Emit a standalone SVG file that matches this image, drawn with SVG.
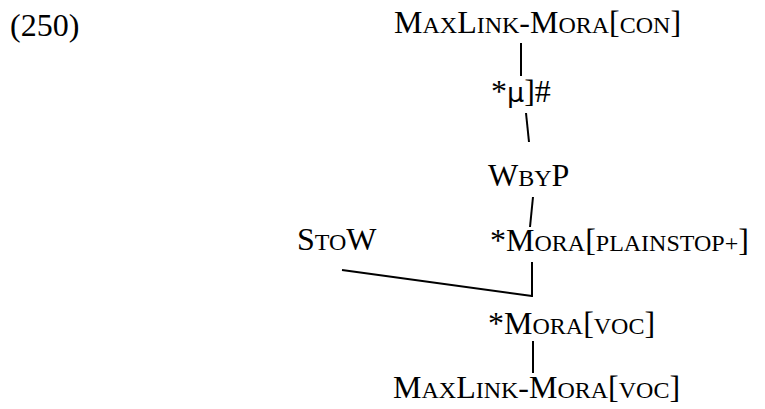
<svg xmlns="http://www.w3.org/2000/svg" width="765" height="409" viewBox="0 0 765 409">
<style>
text{font-family:"Liberation Serif","Times New Roman",serif;font-size:32px;fill:#000}
.sc{font-size:24px}
.mu{font-family:"DejaVu Sans","Liberation Sans",sans-serif;font-size:27px}
.c line{stroke:#000;stroke-width:2;fill:none}
</style>
<rect width="765" height="409" fill="#fff"/>
<g id="label"><text x="10" y="36">(250)</text></g>
<g id="n1"><text x="394" y="33">M<tspan class="sc">AX</tspan>L<tspan class="sc">INK</tspan>-M<tspan class="sc">ORA</tspan>[<tspan class="sc">CON</tspan>]</text></g>
<g id="n2"><text x="491" y="102">*<tspan class="mu">μ</tspan>]#</text></g>
<g id="n3"><text x="488" y="186">W<tspan class="sc">BY</tspan>P</text></g>
<g id="n4"><text x="297" y="250">S<tspan class="sc">TO</tspan>W</text></g>
<g id="n5"><text x="490" y="251">*M<tspan class="sc">ORA</tspan>[<tspan class="sc">PLAINSTOP+</tspan>]</text></g>
<g id="n6"><text x="488" y="334">*M<tspan class="sc">ORA</tspan>[<tspan class="sc">VOC</tspan>]</text></g>
<g id="n7"><text x="393" y="398">M<tspan class="sc">AX</tspan>L<tspan class="sc">INK</tspan>-M<tspan class="sc">ORA</tspan>[<tspan class="sc">VOC</tspan>]</text></g>
<g id="connectors" class="c">
<line x1="521" y1="43" x2="521" y2="76"/>
<line x1="526" y1="113" x2="529" y2="142"/>
<line x1="533" y1="197" x2="530" y2="227"/>
<line x1="532" y1="262" x2="532" y2="297"/>
<line x1="342" y1="270" x2="532" y2="296"/>
<line x1="533" y1="341" x2="533" y2="373"/>
</g>
</svg>
